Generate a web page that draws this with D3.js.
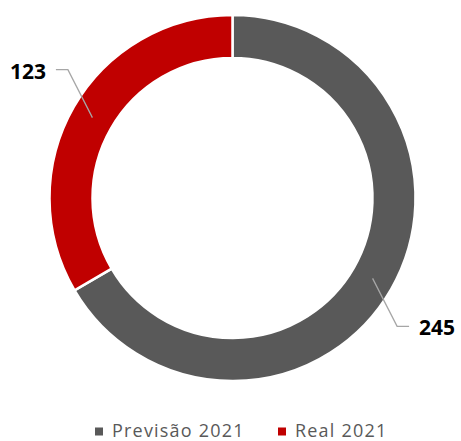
<!DOCTYPE html>
<html>
<head>
<meta charset="utf-8" />
<script src="https://cdn.jsdelivr.net/npm/d3@7"></script>
<style>
  body { margin: 0; background: #fff; }
  text { font-family: "Open Sans", "Liberation Sans", sans-serif; }
</style>
</head>
<body>
<svg id="chart"></svg>
<script>
  var categories = ['Previsão 2021', 'Real 2021'],
      values = [245, 123],
      colors = ['#595959', '#c00000'];

  var width = 461, height = 441,
      cx = 232.5, cy = 198,
      outer = 183, inner = 140;

  var svg = d3.select('#chart').attr('width', width).attr('height', height);
  var g = svg.append('g').attr('transform', 'translate(' + cx + ',' + cy + ')');

  var pie = d3.pie().sort(null).value(function(d) { return d; });
  var arc = d3.arc().innerRadius(inner).outerRadius(outer);
  var mid = d3.arc().innerRadius((inner + outer) / 2).outerRadius((inner + outer) / 2);

  var arcs = pie(values);

  g.selectAll('path.slice').data(arcs).enter().append('path')
      .attr('class', 'slice')
      .attr('d', arc)
      .attr('fill', function(d, i) { return colors[i]; })
      .attr('stroke', '#fff')
      .attr('stroke-width', 2.5);

  // leader lines + labels (label pulled out diagonally from the ring centroid)
  var pull = [24.5, 48], tail = 12;
  arcs.forEach(function(d, i) {
    var p = mid.centroid(d),
        a = (d.startAngle + d.endAngle) / 2,
        side = Math.sin(a) > 0 ? 1 : -1,
        e = [p[0] + side * pull[0], p[1] + side * pull[1]],
        t = [e[0] + side * tail, e[1]];
    g.append('polyline')
        .attr('points', [p, e, t].map(function(q) { return q.join(','); }).join(' '))
        .attr('fill', 'none')
        .attr('stroke', '#a6a6a6')
        .attr('stroke-width', 1.3);
    g.append('text')
        .attr('x', t[0] + side * 10)
        .attr('y', t[1] + 1.5)
        .attr('dy', '0.35em')
        .attr('text-anchor', side > 0 ? 'start' : 'end')
        .style('font-size', '21px')
        .style('font-weight', 'bold')
        .attr('fill', '#000')
        .text(d.data);
  });

  // legend
  var legend = svg.append('g').attr('transform', 'translate(0,431)');
  var lx = [95, 278];
  categories.forEach(function(c, i) {
    legend.append('rect')
        .attr('x', lx[i]).attr('y', -3.5)
        .attr('width', 8).attr('height', 8)
        .attr('fill', colors[i]);
    legend.append('text')
        .attr('x', lx[i] + 17).attr('y', 6)
        .style('font-size', '18px')
        .style('letter-spacing', '1.2px')
        .attr('fill', '#595959')
        .text(c);
  });
</script>
</body>
</html>
